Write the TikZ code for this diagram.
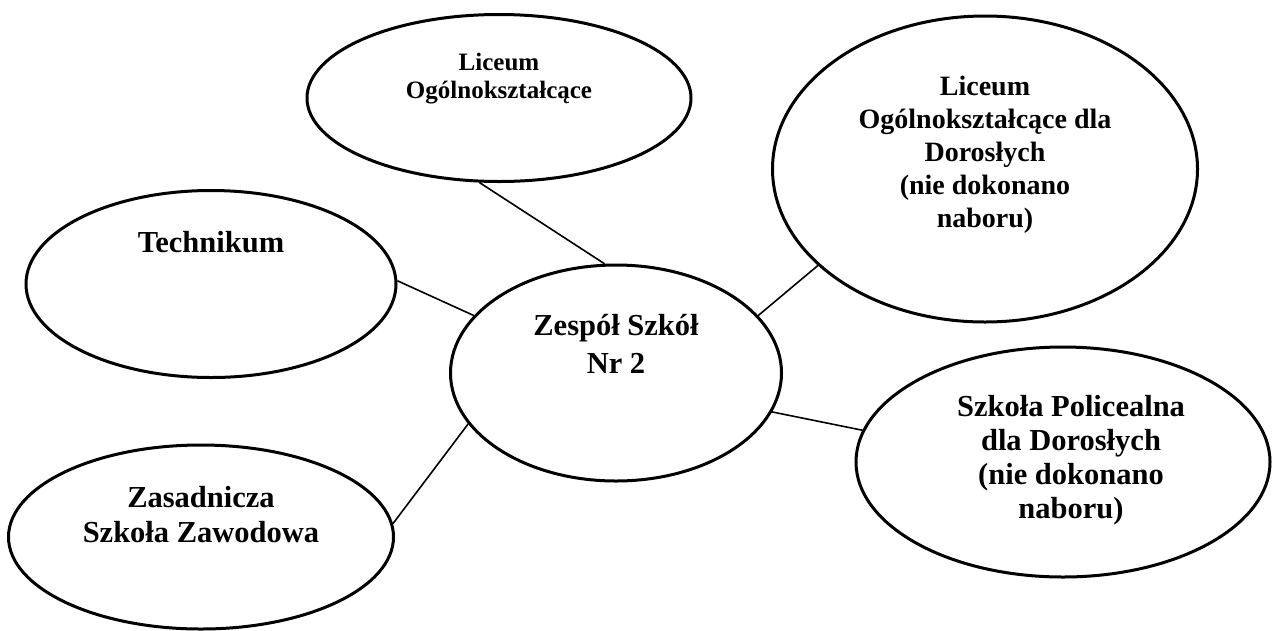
\documentclass[tikz,border=0pt]{standalone}
\usepackage{fontspec}
\setmainfont{Liberation Serif}
\usetikzlibrary{shapes.geometric}
\tikzset{
	school/.style={ellipse,draw=black,line width=3pt,inner sep=0pt},
	schooltext/.style={align=center,font=\bfseries\fontsize{30.5}{36}\selectfont},
	link/.style={line width=1.6pt},
}

\begin{document}
\begin{tikzpicture}[x=1pt,y=-1pt]
	\useasboundingbox (0,0) rectangle (1273,630);
	\node[school,minimum width=384pt,minimum height=167pt,label={[schooltext,font=\bfseries\fontsize{25}{28}\selectfont,yshift=19pt]center:{Liceum\\Ogólnokształcące}}] (lo) at (499,98) {};
	\node[school,minimum width=425pt,minimum height=306pt,label={[schooltext,font=\bfseries\fontsize{28}{33}\selectfont,yshift=14pt]center:{Liceum\\Ogólnokształcące dla\\Dorosłych\\(nie dokonano\\naboru)}}] (lod) at (985,169) {};
	\node[school,minimum width=370pt,minimum height=187pt,label={[schooltext,yshift=42pt]center:{Technikum}}] (tech) at (211,284) {};
	\node[school,minimum width=331pt,minimum height=216pt,label={[schooltext,font=\bfseries\fontsize{30.5}{38}\selectfont,yshift=29pt]center:{Zespół Szkół\\Nr 2}}] (zs) at (616,373) {};
	\node[school,minimum width=385pt,minimum height=184pt,label={[schooltext,font=\bfseries\fontsize{30.5}{35}\selectfont,yshift=22pt]center:{Zasadnicza\\Szkoła Zawodowa}}] (zsz) at (201,537) {};
	\node[school,minimum width=414pt,minimum height=230pt,label={[schooltext,font=\bfseries\fontsize{30.5}{34}\selectfont,xshift=8pt,yshift=2pt]center:{Szkoła Policealna\\dla Dorosłych\\(nie dokonano\\naboru)}}] (spd) at (1063,462) {};
	% polaczenia ze szkola
	\draw[link] (lo.-103) -- (zs.96);
	\draw[link] (tech.1) -- (zs.158);
	\draw[link] (lod.210) -- (zs.22);
	\draw[link] (zs.-14) -- (spd.171);
	\draw[link] (zs.199) -- (zsz.4);
\end{tikzpicture}
\end{document}
